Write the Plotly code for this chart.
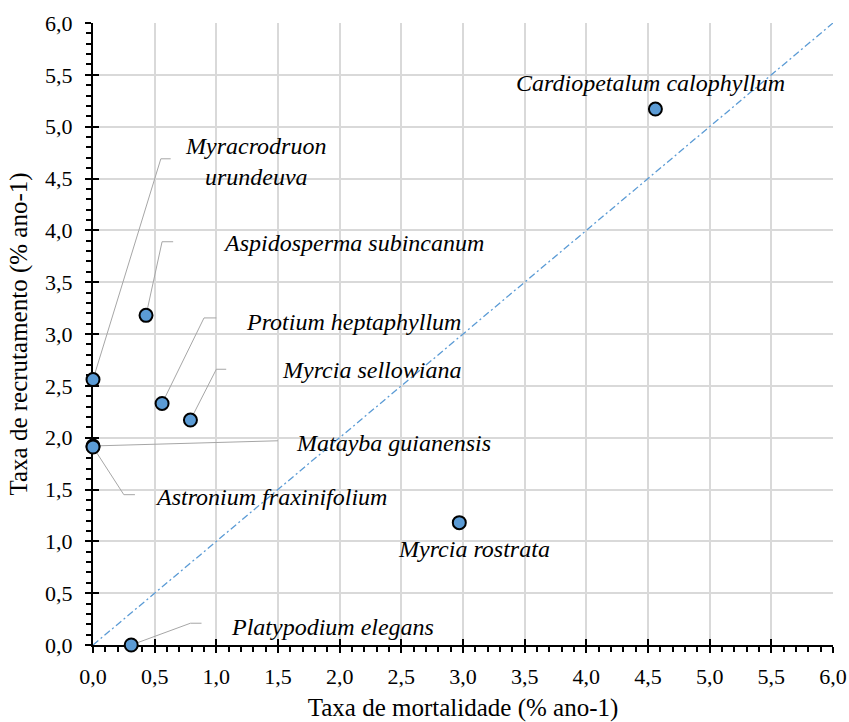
import plotly.graph_objects as go

# ---- data ----
species = [
    "Cardiopetalum calophyllum", "Myrcia rostrata", "Platypodium elegans",
    "Myracrodruon urundeuva", "Aspidosperma subincanum", "Protium heptaphyllum",
    "Myrcia sellowiana", "Matayba guianensis", "Astronium fraxinifolium",
]
mortalidade = [4.56, 2.97, 0.31, 0.00, 0.43, 0.56, 0.79, 0.00, 0.00]
recrutamento = [5.17, 1.18, 0.00, 2.56, 3.18, 2.33, 2.17, 1.92, 1.91]

label_text = [
    "Cardiopetalum calophyllum", "Myrcia rostrata", "Platypodium elegans",
    "Myracrodruon<br>urundeuva", "Aspidosperma subincanum", "Protium heptaphyllum",
    "Myrcia sellowiana", "Matayba guianensis", "Astronium fraxinifolium",
]
# label centre positions (data units)
label_x = [4.52, 3.09, 1.94, 1.315, 2.11, 2.11, 2.26, 2.44, 1.445]
label_y = [5.42, 0.93, 0.17, 4.66, 3.88, 3.12, 2.655, 1.95, 1.43]
# leader line elbow / end (None = no leader)
leader_elbow = [None, None, (0.79, 0.21), (0.55, 4.69), (0.56, 3.89), (0.90, 3.155),
                (1.00, 2.66), (1.50, 1.97), (0.25, 1.45)]
leader_end = [None, None, (0.88, 0.21), (0.63, 4.69), (0.65, 3.89), (1.00, 3.155),
              (1.08, 2.66), (1.50, 1.97), (0.34, 1.45)]

diag = [0, 6]

FONT = "Liberation Serif"
BLUE = "#5B9BD5"

fig = go.Figure()

# 1:1 line
fig.add_trace(go.Scatter(x=diag, y=diag, mode="lines",
                         line=dict(color=BLUE, width=1.3, dash="7px,3px,2px,3px"),
                         hoverinfo="skip", showlegend=False))

# leader lines
lx, ly = [], []
for i in range(len(species)):
    if leader_elbow[i] is None:
        continue
    lx += [mortalidade[i], leader_elbow[i][0], leader_end[i][0], None]
    ly += [recrutamento[i], leader_elbow[i][1], leader_end[i][1], None]
fig.add_trace(go.Scatter(x=lx, y=ly, mode="lines",
                         line=dict(color="#a6a6a6", width=1),
                         hoverinfo="skip", showlegend=False, cliponaxis=False))

# points
fig.add_trace(go.Scatter(x=mortalidade, y=recrutamento, mode="markers", text=species,
                         marker=dict(size=13, color=BLUE, line=dict(color="black", width=2)),
                         cliponaxis=False, showlegend=False))

# invisible trace on overlay axes (for inner major ticks)
fig.add_trace(go.Scatter(x=diag, y=diag, xaxis="x2", yaxis="y2", mode="markers",
                         marker=dict(opacity=0), hoverinfo="skip", showlegend=False))

for i in range(len(species)):
    fig.add_annotation(x=label_x[i], y=label_y[i], text=label_text[i], showarrow=False,
                       xanchor="center", yanchor="middle",
                       font=dict(family=FONT, size=24, color="black", style="italic"))

axis_common = dict(
    range=[0, 6], dtick=0.5, tick0=0, tickformat=".1f",
    showgrid=True, gridcolor="#d9d9d9", gridwidth=1.5,
    zeroline=False, showline=True, linecolor="black", linewidth=2,
    ticks="outside", ticklen=6, tickwidth=2, tickcolor="black",
    minor=dict(dtick=0.1, ticks="outside", ticklen=5, tickwidth=1.5, tickcolor="black",
               showgrid=False),
    tickfont=dict(family=FONT, size=22, color="black"),
    layer="below traces", automargin=False,
)

fig.update_layout(
    template="none",
    width=849, height=722,
    margin=dict(l=93, r=16, t=23, b=77),
    paper_bgcolor="white", plot_bgcolor="white",
    separators=",.",
    xaxis=dict(axis_common,
               title=dict(text="Taxa de mortalidade (% ano-1)", standoff=14,
                          font=dict(family=FONT, size=25, color="black")),
               ticklabelstandoff=5),
    yaxis=dict(axis_common,
               title=dict(text="Taxa de recrutamento (% ano-1)", standoff=10,
                          font=dict(family=FONT, size=25, color="black")),
               ticklabelstandoff=8),
    xaxis2=dict(overlaying="x", anchor="y", range=[0, 6], dtick=0.5, tick0=0,
                showgrid=False, zeroline=False, showline=False, showticklabels=False,
                ticks="inside", ticklen=6, tickwidth=2, tickcolor="black", automargin=False),
    yaxis2=dict(overlaying="y", anchor="x", range=[0, 6], dtick=0.5, tick0=0,
                showgrid=False, zeroline=False, showline=False, showticklabels=False,
                ticks="inside", ticklen=6, tickwidth=2, tickcolor="black", automargin=False),
    showlegend=False,
)

fig.write_html("out.html")
